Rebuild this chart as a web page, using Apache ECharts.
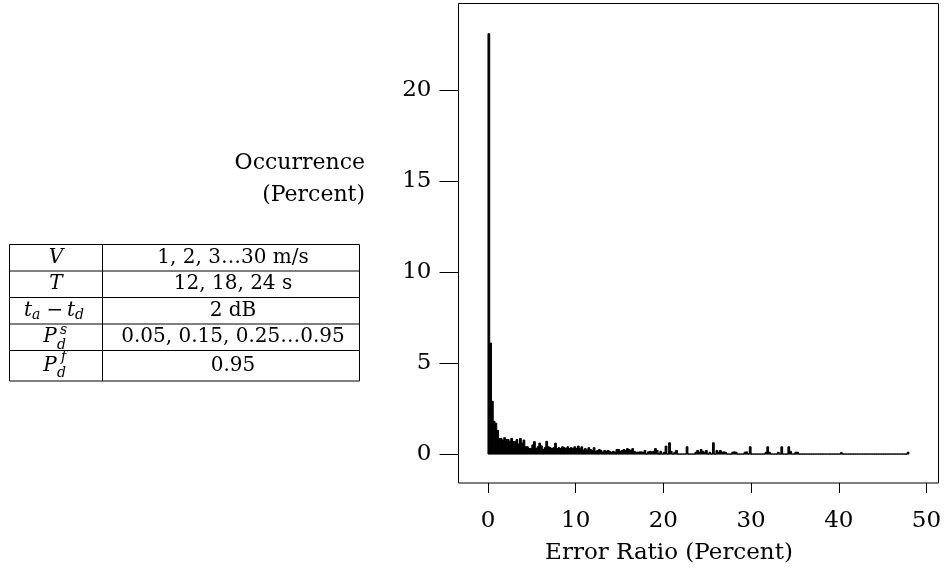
<!DOCTYPE html>
<html>
<head>
<meta charset="utf-8">
<script src="https://cdn.jsdelivr.net/npm/echarts@6/dist/echarts.min.js"></script>
<style>
  html, body { margin: 0; padding: 0; background: #fff; }
  #main { width: 945px; height: 573px; }
</style>
</head>
<body>
<div id="main"></div>
<script>
// ---- data ----
const binWidth = 0.2; // histogram bin width (percent)
// occurrence (percent) per bin, bins start at 0 and step by binWidth up to 48
const occurrence = [
  23.1, 6.1, 2.9, 1.8, 1.7, 1.3, 0.85, 0.86, 0.77, 0.9,
  0.8, 0.8, 0.7, 0.86, 0.68, 0.68, 0.8, 0.55, 0.86, 0.6,
  0.77, 0.4, 0.4, 0.3, 0.3, 0.5, 0.68, 0.3, 0.4, 0.6,
  0.45, 0.25, 0.35, 0.7, 0.4, 0.35, 0.3, 0.35, 0.6, 0.3,
  0.35, 0.3, 0.4, 0.35, 0.3, 0.4, 0.3, 0.35, 0.3, 0.4,
  0.3, 0.44, 0.3, 0.4, 0.22, 0.3, 0.22, 0.35, 0.25, 0.2,
  0.35, 0.15, 0.2, 0.25, 0.2, 0.1, 0.2, 0.15, 0.2, 0.15,
  0.1, 0.15, 0.1, 0.25, 0.25, 0.15, 0.2, 0.25, 0.2, 0.3,
  0.25, 0.2, 0.3, 0.15, 0.1, 0.1, 0.12, 0.12, 0.1, 0.2,
  0, 0.12, 0.15, 0.12, 0.15, 0.3, 0.2, 0, 0.15, 0,
  0.1, 0.44, 0, 0.62, 0.15, 0, 0.1, 0.2, 0, 0,
  0, 0, 0, 0.4, 0, 0, 0, 0, 0.1, 0.2,
  0.1, 0.25, 0.15, 0.1, 0.2, 0, 0.1, 0, 0.62, 0,
  0.2, 0.1, 0.2, 0.1, 0.12, 0.1, 0, 0, 0, 0.1,
  0.12, 0.1, 0, 0, 0, 0, 0.1, 0.12, 0, 0.4,
  0, 0, 0, 0, 0, 0, 0, 0, 0.1, 0.4,
  0.1, 0, 0, 0, 0, 0.1, 0, 0.4, 0, 0,
  0, 0.4, 0.15, 0, 0, 0.1, 0.1, 0, 0, 0,
  0, 0, 0, 0, 0, 0, 0, 0, 0, 0,
  0, 0, 0, 0, 0, 0, 0, 0, 0, 0,
  0, 0.08, 0, 0, 0, 0, 0, 0, 0, 0,
  0, 0, 0, 0, 0, 0, 0, 0, 0, 0,
  0, 0, 0, 0, 0, 0, 0, 0, 0, 0,
  0, 0, 0, 0, 0, 0, 0, 0, 0, 0.1
];
const xTicks = [0, 10, 20, 30, 40, 50];
const yTicks = [0, 5, 10, 15, 20];
const xTitle = 'Error Ratio (Percent)';
const yTitle = ['Occurrence', '(Percent)'];
const tableValues = ['1, 2, 3…30 m/s', '12, 18, 24 s', '2 dB', '0.05, 0.15, 0.25…0.95', '0.95'];

// ---- chart ----
const FONT = "'DejaVu Serif', serif";
const bins = occurrence.map((v, i) => [i * binWidth, (i + 1) * binWidth, v]);

// table layout
const tX = [9.5, 102.5, 359.5];
const tY = [244.5, 271, 297.5, 324, 350.5, 381];
const graphics = [];
tY.forEach(y => graphics.push({ type: 'line', shape: { x1: tX[0], y1: y, x2: tX[2], y2: y }, style: { stroke: '#000', lineWidth: 1 } }));
tX.forEach(x => graphics.push({ type: 'line', shape: { x1: x, y1: tY[0], x2: x, y2: tY[5] }, style: { stroke: '#000', lineWidth: 1 } }));
const rowC = i => (tY[i] + tY[i + 1]) / 2;
const colC1 = (tX[0] + tX[1]) / 2, colC2 = (tX[1] + tX[2]) / 2 + 2;
function txt(t, x, y, size, italic, align) {
  return { type: 'text', x: x, y: y, style: { text: t, font: (italic ? 'italic ' : '') + size + 'px ' + FONT, fill: '#000', align: align || 'center', verticalAlign: 'middle' } };
}
tableValues.forEach((t, i) => graphics.push(txt(t, colC2, rowC(i), 20, false)));
// math symbols in the left column
graphics.push(txt('V', colC1, rowC(0), 20, true));
graphics.push(txt('T', colC1, rowC(1), 20, true));
graphics.push(txt('t', 24, rowC(2), 20, true, 'left'));
graphics.push(txt('a', 32, rowC(2) + 5, 14, true, 'left'));
graphics.push(txt('−', 55, rowC(2), 20, false));
graphics.push(txt('t', 67, rowC(2), 20, true, 'left'));
graphics.push(txt('d', 75, rowC(2) + 5, 14, true, 'left'));
graphics.push(txt('P', 50, rowC(3), 20, true));
graphics.push(txt('s', 60, rowC(3) - 7, 14, true, 'left'));
graphics.push(txt('d', 57, rowC(3) + 8, 14, true, 'left'));
graphics.push(txt('P', 50, rowC(4), 20, true));
graphics.push(txt('f', 61, rowC(4) - 8, 14, true, 'left'));
graphics.push(txt('d', 57, rowC(4) + 8, 14, true, 'left'));
// axis titles
graphics.push(txt(yTitle[0], 365, 163, 22, false, 'right'));
graphics.push(txt(yTitle[1], 365, 195, 22, false, 'right'));
graphics.push(txt(xTitle, 669, 553, 23, false));

const chart = echarts.init(document.getElementById('main'), null, { renderer: 'canvas' });
chart.setOption({
  animation: false,
  backgroundColor: '#fff',
  grid: { left: 458.5, right: 6.5, top: 3.5, bottom: 90, show: true, borderColor: '#000', borderWidth: 1, backgroundColor: 'transparent' },
  xAxis: {
    type: 'value', min: -3.36, max: 51.37,
    axisLine: { show: false, onZero: false }, splitLine: { show: false },
    axisTick: { show: true, length: 10, lineStyle: { color: '#000', width: 1 }, customValues: xTicks },
    axisLabel: { customValues: xTicks, margin: 27, color: '#000', fontFamily: FONT, fontSize: 23 }
  },
  yAxis: {
    type: 'value', min: -1.59, max: 24.76,
    axisLine: { show: false, onZero: false }, splitLine: { show: false },
    axisTick: { show: true, length: 19, lineStyle: { color: '#000', width: 1 }, customValues: yTicks },
    axisLabel: { customValues: yTicks, margin: 27, color: '#000', fontFamily: FONT, fontSize: 23 }
  },
  series: [{
    type: 'custom',
    data: bins,
    encode: { x: [0, 1], y: 2 },
    renderItem: function (params, api) {
      const p0 = api.coord([api.value(0), api.value(2)]);
      const p1 = api.coord([api.value(1), 0]);
      return {
        type: 'rect',
        shape: { x: p0[0], y: p0[1], width: p1[0] - p0[0], height: p1[1] - p0[1] },
        style: { fill: '#000', stroke: '#000', lineWidth: 1 }
      };
    }
  }],
  graphic: graphics
});
</script>
</body>
</html>
